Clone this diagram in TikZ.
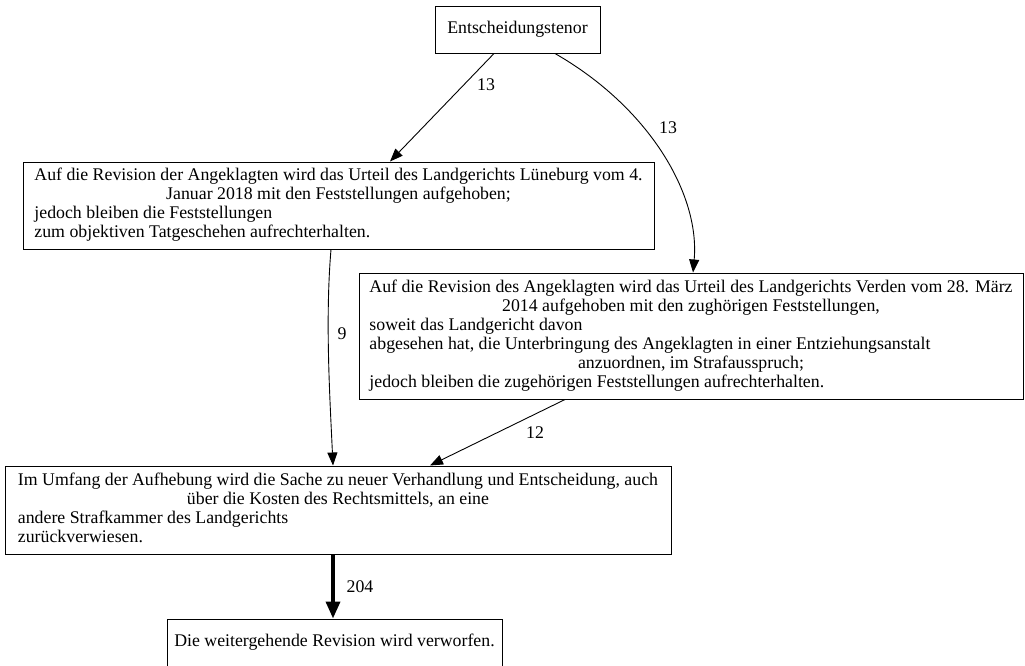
\documentclass[tikz,border=0pt]{standalone}
\usepackage{fontspec}
\setmainfont{Liberation Serif}
\usetikzlibrary{arrows.meta,calc}
\newcommand{\gvfont}{\fontsize{17.8pt}{18.9pt}\selectfont}
\newcommand{\cl}[1]{\multicolumn{1}{@{}c@{}}{#1}}
\tikzset{
  box/.style={draw, line width=1pt, rectangle, inner sep=0pt, font=\gvfont},
  edge/.style={line width=0.9pt, -{Triangle[length=13pt,width=10pt]}},
  thickedge/.style={line width=3.6pt, -{Triangle[length=17pt,width=14pt]}},
  lbl/.style={font=\gvfont, inner sep=0pt}
}
\begin{document}
\begin{tikzpicture}[x=1pt,y=1pt]
\useasboundingbox (0,0) rectangle (1025,-665);
\node[box, minimum width=165pt, minimum height=47pt] (E) at (517.5,-29.5) {Entscheidungstenor};
\node[box, minimum width=631pt, minimum height=87pt] (A) at (338.5,-205.5) {\raisebox{-2pt}{\begin{tabular}{@{}l@{}}
Auf die Revision der Angeklagten wird das Urteil des Landgerichts Lüneburg vom 4.\\
\cl{Januar 2018 mit den Feststellungen aufgehoben;}\\
jedoch bleiben die Feststellungen\\
zum objektiven Tatgeschehen aufrechterhalten.
\end{tabular}}};
\node[box, minimum width=664pt, minimum height=126pt] (B) at (691,-336) {\raisebox{-2pt}{\begin{tabular}{@{}l@{}}
Auf die Revision des Angeklagten wird das Urteil des Landgerichts Verden vom 28. März\\
\cl{2014 aufgehoben mit den zughörigen Feststellungen,}\\
soweit das Landgericht davon\\
abgesehen hat, die Unterbringung des Angeklagten in einer Entziehungsanstalt\\
\cl{anzuordnen, im Strafausspruch;}\\
jedoch bleiben die zugehörigen Feststellungen aufrechterhalten.
\end{tabular}}};
\node[box, minimum width=666pt, minimum height=88pt] (C) at (338,-510) {\raisebox{-2pt}{\begin{tabular}{@{}l@{}}
Im Umfang der Aufhebung wird die Sache zu neuer Verhandlung und Entscheidung, auch\\
\cl{über die Kosten des Rechtsmittels, an eine}\\
andere Strafkammer des Landgerichts\\
zurückverwiesen.
\end{tabular}}};
\node[box, minimum width=335pt, minimum height=47pt] (D) at (334.5,-642.5) {Die weitergehende Revision wird verworfen.};

\draw[edge] ([xshift=-23.5pt]E.south) -- ([xshift=51.5pt]A.north);
\node[lbl] (l1) at (486,-85) {13};
\draw[edge] ([xshift=37.5pt]E.south) .. controls (650,-108) and (700,-195) .. ([xshift=2pt]B.north);
\node[lbl] (l2) at (668,-128) {13};
\draw[edge] ([xshift=-7.5pt]A.south) .. controls (325,-320) and (330,-400) .. ([xshift=-5pt]C.north);
\node[lbl] (l3) at (342,-334) {9};
\draw[edge] ([xshift=-126pt]B.south) -- ([xshift=92pt]C.north);
\node[lbl] (l4) at (535,-433) {12};
\draw[thickedge] ([xshift=-5pt]C.south) -- ([xshift=-1.5pt]D.north);
\node[lbl] (l5) at (360,-587) {204};
\end{tikzpicture}
\end{document}
